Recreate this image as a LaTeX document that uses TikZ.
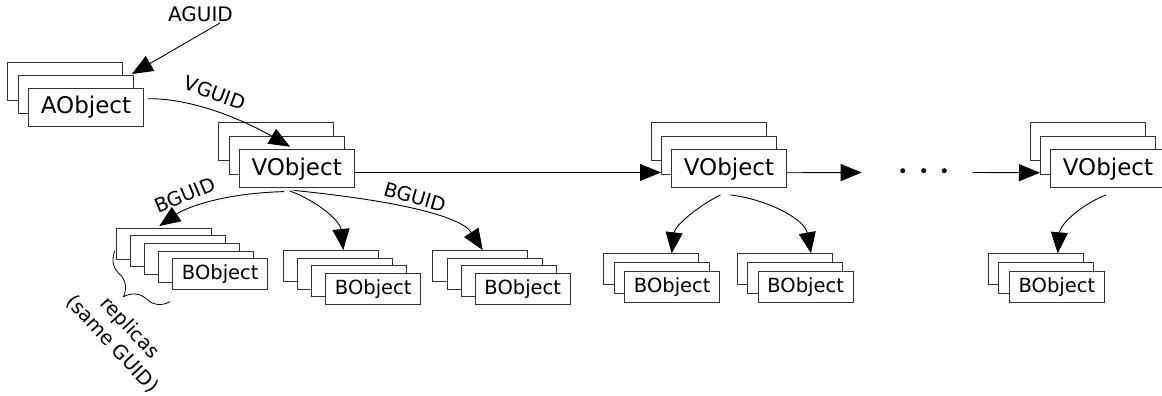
\documentclass[tikz,border=0pt]{standalone}
\usepackage{fontspec}
\setmainfont{DejaVu Sans}
\usetikzlibrary{arrows.meta,decorations.pathreplacing,calc}
\begin{document}
\begin{tikzpicture}[x=1pt,y=-1pt,
  box/.style={draw=black!80, line width=0.9pt, fill=white, inner sep=0pt, anchor=north west},
  vbox/.style={box, minimum width=115pt, minimum height=38pt, font=\fontsize{23}{26}\selectfont},
  bbox/.style={box, minimum width=95pt, minimum height=31pt, font=\fontsize{19.5}{22}\selectfont},
  lbl/.style={font=\fontsize{19.5}{24}\selectfont, inner sep=0pt},
  conn/.style={line width=0.9pt, -{Triangle[length=21pt,width=17pt]}},
  dotmark/.style={circle, fill=black, inner sep=0pt, minimum size=5pt}]
\clip (0,0) rectangle (1162,396);
\fill[white] (0,0) rectangle (1162,396);
% AObject stack
\node[vbox] (a1) at (7,62) {};
\node[vbox] (a2) at (17.5,75) {};
\node[vbox] (a) at (28,88) {AObject};
% VObject stacks
\node[vbox] (v1c) at (218,122) {};
\node[vbox] (v1b) at (228.5,135.5) {};
\node[vbox] (v1) at (238.7,149.3) {VObject};
\node[vbox] (v2c) at (651,122) {};
\node[vbox] (v2b) at (661,135.5) {};
\node[vbox] (v2) at (671,149.3) {VObject};
\node[vbox] (v3c) at (1030,122) {};
\node[vbox] (v3b) at (1040,135.5) {};
\node[vbox] (v3) at (1050,149.3) {VObject};
% BObject stacks
\node[bbox] (b11) at (115.7,227.7) {};
\node[bbox] (b12) at (129.9,235.3) {};
\node[bbox] (b13) at (144,243) {};
\node[bbox] (b14) at (158.2,250.6) {};
\node[bbox] (b1) at (172.3,258.3) {BObject};
\node[bbox] (b21) at (282.7,250) {};
\node[bbox] (b22) at (296.9,257.7) {};
\node[bbox] (b23) at (311,265.3) {};
\node[bbox] (b2) at (325.3,273.3) {BObject};
\node[bbox] (b31) at (432.3,250) {};
\node[bbox] (b32) at (446.5,257.7) {};
\node[bbox] (b33) at (460.7,265.3) {};
\node[bbox] (b3) at (474.8,273.3) {BObject};
\node[bbox] (b41) at (603.3,253.3) {};
\node[bbox] (b42) at (613.8,262) {};
\node[bbox] (b4) at (624.3,270.7) {BObject};
\node[bbox] (b51) at (736.7,253.3) {};
\node[bbox] (b52) at (747.2,262) {};
\node[bbox] (b5) at (757.7,270.7) {BObject};
\node[bbox] (b61) at (987.7,253.3) {};
\node[bbox] (b62) at (998.3,262) {};
\node[bbox] (b6) at (1009,270.7) {BObject};
% labels
\node[lbl, font=\fontsize{20}{24}\selectfont] (aguid) at (200.5,14.5) {AGUID};
\node[lbl, rotate=-20] (vguid) at (215,93) {VGUID};
\node[lbl, rotate=23] (bguid1) at (185,195) {BGUID};
\node[lbl, rotate=-16] (bguid2) at (415,197) {BGUID};
\node[lbl, rotate=-47, align=center] (rep) at (121,336) {replicas\\(same GUID)};
% free ends
\coordinate (ag0) at (220,23);
\coordinate (e1) at (861.7,172.5);
\coordinate (e2) at (972.7,172.5);
\coordinate (brA) at (115,250.7);
\coordinate (brB) at (170,301.7);
% dots
\node[dotmark] (d1) at (902.7,170.7) {};
\node[dotmark] (d2) at (923.7,170.7) {};
\node[dotmark] (d3) at (944.3,170.7) {};
% connectors
\draw[conn] (ag0) -- ($(a2.north east)+(-1.5,-1)$);
\draw[conn] ($(a.east)+(3.7,-8.7)$) .. controls (190,98) and (240,118) .. ($(v1.north west)+(51.3,-2.6)$);
\draw[conn] ($(v1.east)+(0,3.7)$) -- ($(v2b.west |- v1.east)+(0,3.7)$);
\draw[conn] ($(v2.east)+(0,4)$) -- (e1);
\draw[conn] (e2) -- ($(v3b.west |- v3.east)+(0,4)$);
\draw[conn] ($(v1.south)+(-12.7,3.4)$) .. controls (230,193) and (190,205) .. ($(b11.north west)+(43.6,-1.7)$);
\draw[conn] ($(v1.south)+(-7,2.7)$) .. controls (315,200) and (340,220) .. ($(b21.north west)+(60.6,0)$);
\draw[conn] ($(v1.south)+(-3,2.2)$) .. controls (390,200) and (460,215) .. ($(b31.north west)+(50.4,0)$);
\draw[conn] ($(v2.south)+(-8.5,6.7)$) .. controls (700,205) and (675,225) .. ($(b41.north west)+(68.4,0)$);
\draw[conn] ($(v2.south)+(1.5,6.7)$) .. controls (770,200) and (805,220) .. ($(b51.north west)+(74.3,0)$);
\draw[conn] ($(v3.south)+(-1.8,6.7)$) .. controls (1080,205) and (1060,225) .. ($(b61.north west)+(70,0)$);
% brace
\draw[line width=0.8pt, decorate, decoration={brace, amplitude=28pt}] (brB) -- (brA);
\end{tikzpicture}
\end{document}
